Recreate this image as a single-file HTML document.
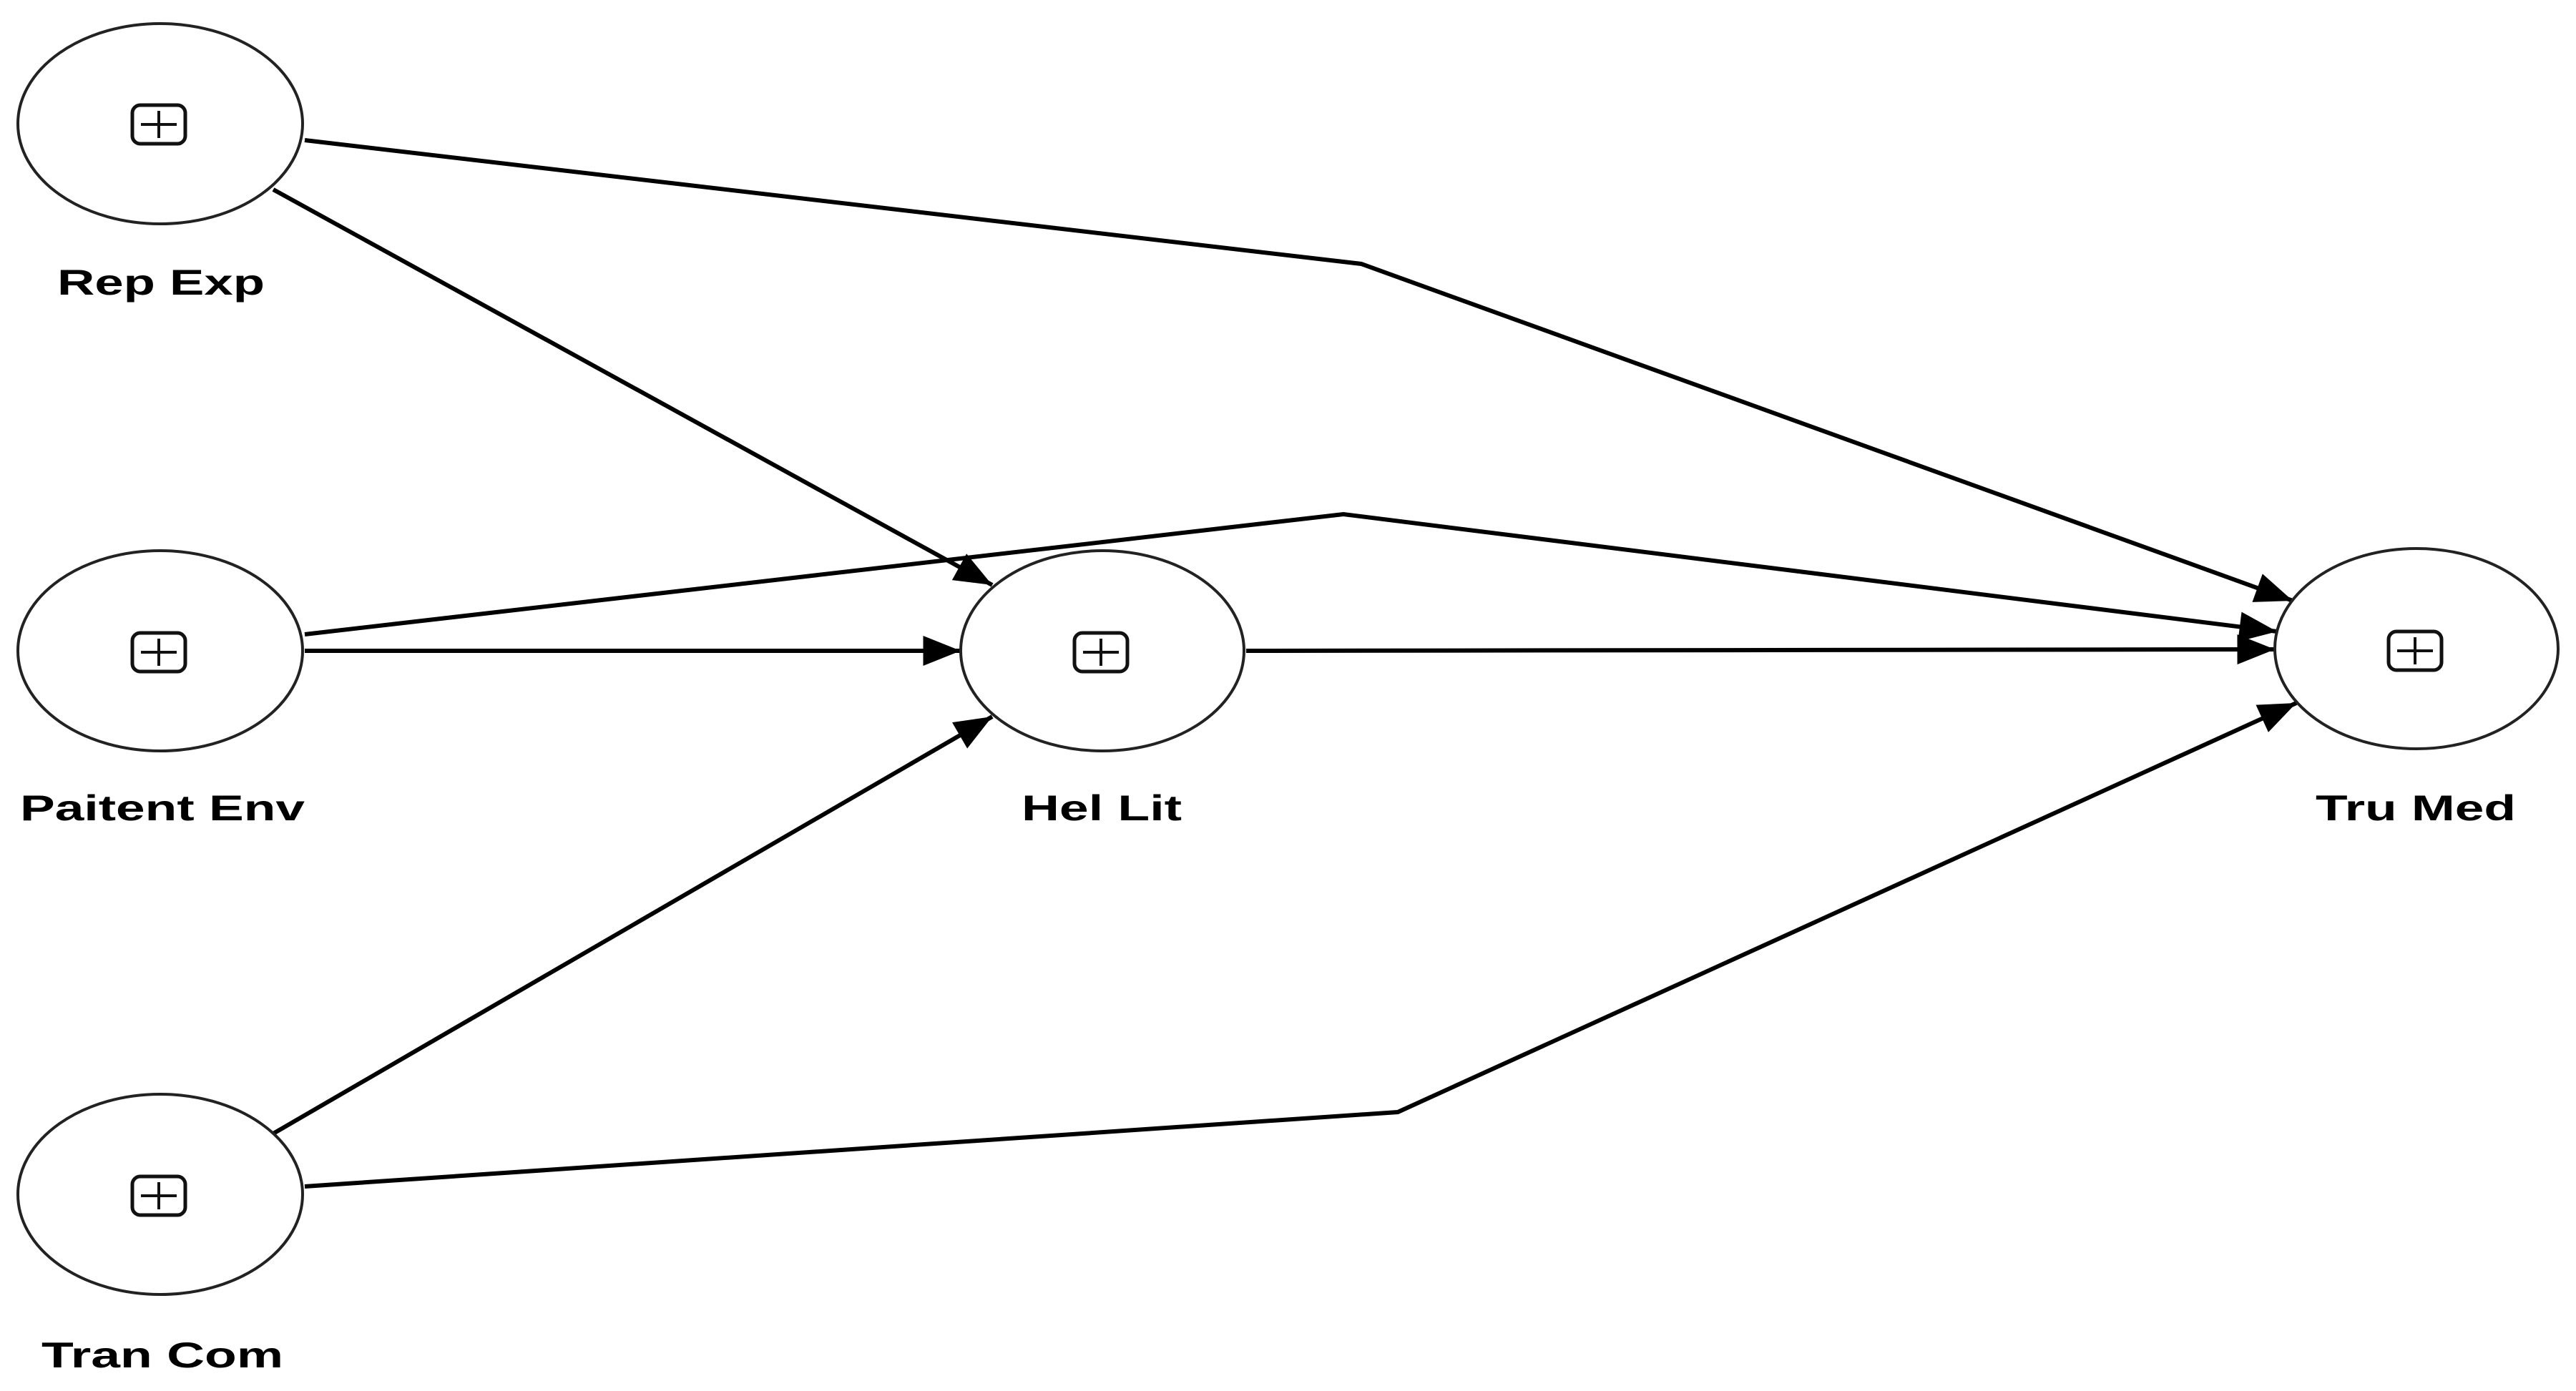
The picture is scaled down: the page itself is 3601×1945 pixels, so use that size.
<!DOCTYPE html>
<html><head><meta charset="utf-8"><style>
html,body{margin:0;padding:0;background:#fff;}
svg{display:block;}
text{font-family:"Liberation Sans",sans-serif;font-weight:bold;font-size:50px;fill:#000;}
</style></head><body>
<svg width="3601" height="1945" viewBox="0 0 3601 1945" xmlns="http://www.w3.org/2000/svg">
<defs>
<marker id="a" viewBox="0 0 10 8" refX="10" refY="4" markerWidth="54" markerHeight="42" markerUnits="userSpaceOnUse" orient="auto">
<path d="M0,0 L10,4 L0,8 Z" fill="#000"/>
</marker>
<g id="plus">
<rect x="-37" y="-27" width="74" height="54" rx="11" ry="11" fill="none" stroke="#111" stroke-width="5"/>
<line x1="-25" y1="0" x2="25" y2="0" stroke="#111" stroke-width="4"/>
<line x1="0" y1="-19" x2="0" y2="19" stroke="#111" stroke-width="4"/>
</g>
</defs>
<g fill="none" stroke="#000" stroke-width="6">
<polyline points="426,196 1903,369 3205,840" marker-end="url(#a)"/>
<line x1="382" y1="265" x2="1387" y2="818" marker-end="url(#a)"/>
<polyline points="426,887 1878,719 3183,883" marker-end="url(#a)"/>
<line x1="426" y1="910" x2="1343" y2="910" marker-end="url(#a)"/>
<line x1="1742" y1="910" x2="3180" y2="908" marker-end="url(#a)"/>
<line x1="382" y1="1585" x2="1387" y2="1002" marker-end="url(#a)"/>
<polyline points="426,1659 1954,1555 3210,983" marker-end="url(#a)"/>
</g>
<g fill="#fff" stroke="#222" stroke-width="4">
<ellipse cx="224" cy="173" rx="199" ry="140"/>
<ellipse cx="224" cy="910" rx="199" ry="140"/>
<ellipse cx="224" cy="1670" rx="199" ry="140"/>
<ellipse cx="1541" cy="910" rx="198" ry="140"/>
<ellipse cx="3378" cy="907" rx="198" ry="140"/>
</g>
<use href="#plus" x="222" y="174"/>
<use href="#plus" x="222" y="912"/>
<use href="#plus" x="222" y="1672"/>
<use href="#plus" x="1539" y="912"/>
<use href="#plus" x="3376" y="910"/>
<text x="80" y="412" textLength="290" lengthAdjust="spacingAndGlyphs">Rep Exp</text>
<text x="28" y="1147" textLength="398" lengthAdjust="spacingAndGlyphs">Paitent Env</text>
<text x="58" y="1912" textLength="338" lengthAdjust="spacingAndGlyphs">Tran Com</text>
<text x="1428" y="1147" textLength="224" lengthAdjust="spacingAndGlyphs">Hel Lit</text>
<text x="3237" y="1147" textLength="280" lengthAdjust="spacingAndGlyphs">Tru Med</text>
</svg>
</body></html>
